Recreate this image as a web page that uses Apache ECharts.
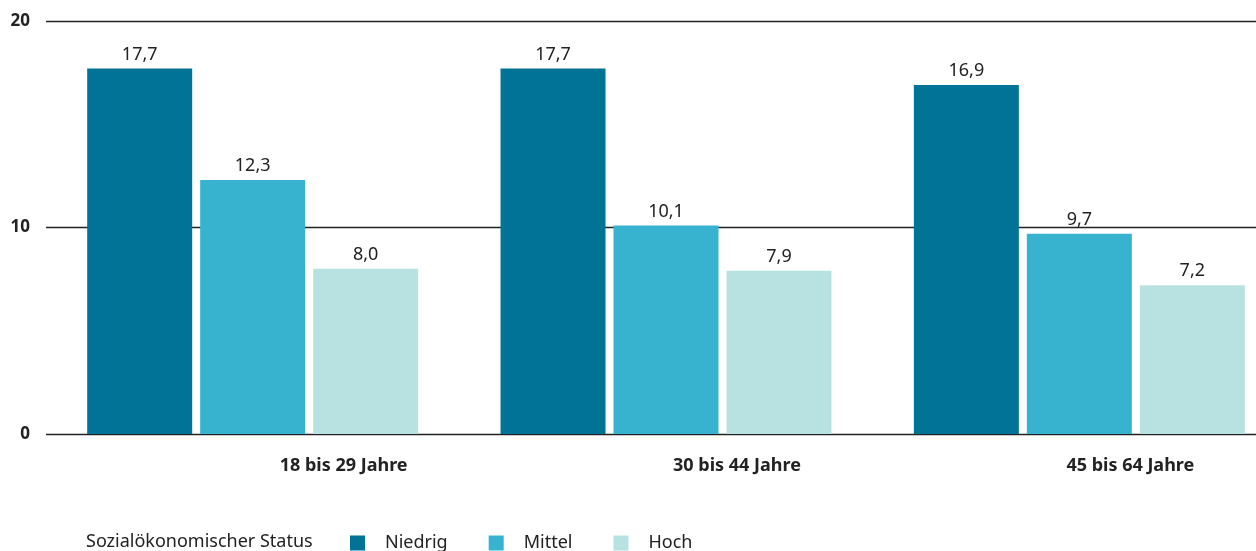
<!DOCTYPE html>
<html>
<head>
<meta charset="utf-8">
<script src="https://cdn.jsdelivr.net/npm/echarts@6/dist/echarts.min.js"></script>
<style>html,body{margin:0;padding:0;background:#fff}#c{width:1256px;height:551px}</style>
</head>
<body>
<div id="c"></div>
<script>
const categories = ['18 bis 29 Jahre', '30 bis 44 Jahre', '45 bis 64 Jahre'];
const niedrig = [17.7, 17.7, 16.9];
const mittel = [12.3, 10.1, 9.7];
const hoch = [8.0, 7.9, 7.2];
const seriesNames = ['Niedrig', 'Mittel', 'Hoch'];
const legendTitle = 'Sozialökonomischer Status';
const yTicks = [0, 10, 20];

const FONT = '"Noto Sans", "Open Sans", sans-serif';
const colors = ['#007396', '#37b3cf', '#b8e2e2'];
const chart = echarts.init(document.getElementById('c'), null, {renderer: 'canvas'});

function bar(name, data, color) {
  return {
    name, type: 'bar', data, xAxisIndex: 0, yAxisIndex: 0,
    barWidth: 105, barGap: '7.6%',
    itemStyle: {color},
    z: 3,
    label: {
      show: true, position: 'top', distance: 5,
      color: '#222', fontFamily: FONT, fontSize: 18,
      formatter: p => p.value.toFixed(1).replace('.', ',')
    }
  };
}

chart.setOption({
  animation: false,
  textStyle: {fontFamily: FONT},
  title: {
    text: legendTitle, left: 86, top: 532, padding: 0,
    textStyle: {fontFamily: FONT, fontSize: 18, fontWeight: 'normal', color: '#222', lineHeight: 20}
  },
  legend: {
    data: seriesNames, left: 350, top: 534, padding: 0,
    icon: 'rect', itemWidth: 15, itemHeight: 15, itemGap: 41,
    textStyle: {fontFamily: FONT, fontSize: 18, color: '#222', lineHeight: 18, padding: [0, 0, 0, 15]}
  },
  grid: [
    {left: 46, right: -30, top: 21, bottom: 117, outerBoundsMode: 'none', containLabel: false},
    {left: 147, right: -71, top: 21, bottom: 117, outerBoundsMode: 'none', containLabel: false}
  ],
  xAxis: [
    {
      type: 'category', data: categories, gridIndex: 0,
      axisLine: {show: false}, axisTick: {show: false}, axisLabel: {show: false}
    },
    {
      type: 'category', data: categories, gridIndex: 1,
      axisLine: {show: false}, axisTick: {show: false},
      axisLabel: {show: true, margin: 23, fontFamily: FONT, fontSize: 18, fontWeight: 'bold', color: '#222'}
    }
  ],
  yAxis: [
    {
      type: 'value', gridIndex: 0, min: 0, max: 20, interval: 10,
      axisLine: {show: false}, axisTick: {show: false},
      axisLabel: {
        margin: 16, fontFamily: FONT, fontSize: 17, fontWeight: 'bold', color: '#222',
        formatter: v => yTicks.includes(v) ? String(v) : ''
      },
      splitLine: {show: true, lineStyle: {color: '#222', width: 1.3}}
    },
    {
      type: 'value', gridIndex: 1, min: 0, max: 20, show: false
    }
  ],
  series: [
    bar(seriesNames[0], niedrig, colors[0]),
    bar(seriesNames[1], mittel, colors[1]),
    bar(seriesNames[2], hoch, colors[2])
  ]
});
</script>
</body>
</html>
